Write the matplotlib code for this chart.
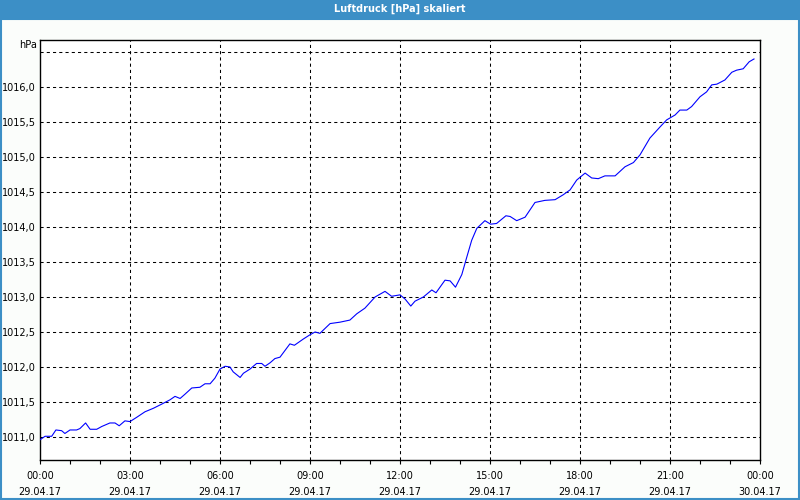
import matplotlib
matplotlib.use('Agg')
import matplotlib.pyplot as plt
from matplotlib.patches import Rectangle
import numpy as np

# stunden seit 29.04.17 00:00, luftdruck in hPa
hours = [0.0, 0.17, 0.39, 0.53, 0.72, 0.83, 1.0, 1.22, 1.33, 1.52, 1.67, 1.89,
         2.06, 2.33, 2.5, 2.64, 2.83, 3.0, 3.22, 3.5, 3.78, 4.06, 4.33, 4.5,
         4.67, 4.83, 5.06, 5.33, 5.5, 5.67, 5.83, 6.0, 6.17, 6.33, 6.44, 6.67,
         6.78, 7.0, 7.22, 7.39, 7.5, 7.67, 7.83, 8.0, 8.33, 8.48, 8.78, 9.0,
         9.17, 9.33, 9.67, 10.0, 10.33, 10.56, 10.83, 11.17, 11.5, 11.72, 12.0,
         12.17, 12.36, 12.5, 12.78, 13.06, 13.2, 13.5, 13.67, 13.85, 14.06,
         14.22, 14.39, 14.56, 14.83, 15.02, 15.22, 15.53, 15.67, 15.89, 16.17,
         16.5, 16.83, 17.17, 17.44, 17.67, 17.89, 18.17, 18.39, 18.61, 18.83,
         19.17, 19.5, 19.78, 20.0, 20.33, 20.67, 20.89, 21.17, 21.33, 21.56,
         21.72, 22.0, 22.22, 22.39, 22.56, 22.83, 23.06, 23.22, 23.44, 23.64,
         23.8]
pressure = [1010.96, 1011.01, 1011.01, 1011.10, 1011.09, 1011.05, 1011.10,
            1011.10, 1011.12, 1011.20, 1011.11, 1011.11, 1011.15, 1011.20,
            1011.20, 1011.16, 1011.23, 1011.22, 1011.28, 1011.36, 1011.41,
            1011.47, 1011.53, 1011.58, 1011.55, 1011.61, 1011.70, 1011.71,
            1011.76, 1011.76, 1011.84, 1011.97, 1012.01, 1012.00, 1011.93,
            1011.85, 1011.91, 1011.97, 1012.05, 1012.05, 1012.01, 1012.06,
            1012.12, 1012.14, 1012.33, 1012.31, 1012.40, 1012.46, 1012.50,
            1012.48, 1012.62, 1012.64, 1012.67, 1012.76, 1012.84, 1013.00,
            1013.08, 1013.01, 1013.03, 1012.97, 1012.87, 1012.94, 1013.00,
            1013.10, 1013.06, 1013.24, 1013.23, 1013.14, 1013.32, 1013.56,
            1013.81, 1013.98, 1014.09, 1014.04, 1014.05, 1014.16, 1014.15,
            1014.09, 1014.14, 1014.35, 1014.38, 1014.39, 1014.46, 1014.53,
            1014.67, 1014.77, 1014.70, 1014.69, 1014.73, 1014.73, 1014.86,
            1014.92, 1015.03, 1015.27, 1015.43, 1015.53, 1015.60, 1015.67,
            1015.67, 1015.72, 1015.86, 1015.93, 1016.03, 1016.04, 1016.10,
            1016.21, 1016.24, 1016.26, 1016.36, 1016.40]

x_ticks = [0, 3, 6, 9, 12, 15, 18, 21, 24]
x_labels = ['00:00\n29.04.17', '03:00\n29.04.17', '06:00\n29.04.17',
            '09:00\n29.04.17', '12:00\n29.04.17', '15:00\n29.04.17',
            '18:00\n29.04.17', '21:00\n29.04.17', '00:00\n30.04.17']
y_ticks = [1011.0, 1011.5, 1012.0, 1012.5, 1013.0, 1013.5, 1014.0, 1014.5,
           1015.0, 1015.5, 1016.0, 1016.5]

blue_bar = '#3c8fc6'
plt.rcParams['font.family'] = 'DejaVu Sans'

fig = plt.figure(figsize=(8, 5), dpi=100, facecolor='#fbfdfb')
# titelleiste + fensterrahmen
fig.patches.append(Rectangle((0, 0.96), 1, 0.04, transform=fig.transFigure,
                             facecolor=blue_bar, edgecolor='none', zorder=0))
fig.patches.append(Rectangle((0.0012, 0.003), 0.9976, 0.96, transform=fig.transFigure,
                             facecolor='none', edgecolor=blue_bar, lw=1.5, zorder=0))
fig.text(0.5, 0.982, 'Luftdruck [hPa] skaliert', color='white', fontsize=7,
         fontweight='bold', ha='center', va='center')

ax = fig.add_axes([0.05, 0.08, 0.90, 0.84])
ax.set_facecolor('white')
ax.plot(hours, pressure, color='#0000ff', lw=0.8, zorder=3)

ax.set_xlim(0, 24)
ax.set_ylim(1010.671, 1016.671)

ax.set_xticks(x_ticks)
ax.set_xticklabels(x_labels, fontsize=7, linespacing=1.75)
ax.set_xticks(np.arange(0, 25, 1), minor=True)
ax.set_yticks(y_ticks)
ax.set_yticklabels([('%.1f' % v).replace('.', ',') for v in y_ticks[:-1]] + [''],
                   fontsize=7)

ax.tick_params(axis='x', which='both', direction='out', length=3, width=0.8,
               pad=5, colors='black')
ax.tick_params(axis='y', which='both', length=0, pad=3)

for v in y_ticks:
    ax.axhline(v, color='black', lw=0.75, ls=(0, (3, 3)), zorder=1)
for t in x_ticks[1:-1]:
    ax.axvline(t, color='black', lw=0.75, ls=(0, (3, 3)), zorder=1)

for s in ax.spines.values():
    s.set_linewidth(1.0)
    s.set_color('black')

ax.text(-0.004, 0.988, 'hPa', transform=ax.transAxes, ha='right', va='center',
        fontsize=7)

plt.savefig('out.png', dpi=100, facecolor=fig.get_facecolor())
